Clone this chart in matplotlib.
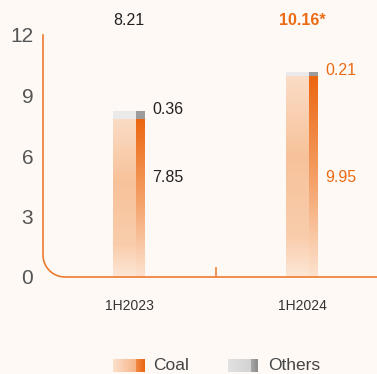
import numpy as np
import matplotlib
matplotlib.use("Agg")
from matplotlib import pyplot as plt
from matplotlib.colors import LinearSegmentedColormap
from matplotlib.lines import Line2D
from matplotlib import font_manager

# data
periods = ["1H2023", "1H2024"]
coal = [7.85, 9.95]
others = [0.36, 0.21]
totals = ["8.21", "10.16*"]
yticks = [0, 3, 6, 9, 12]

ORANGE = "#EC6A14"
DARK = "#222222"
BG = "#FEF9F5"

plt.rcParams["font.family"] = ["Liberation Sans", "DejaVu Sans"]
names = {f.name for f in font_manager.fontManager.ttflist}
narrow = "Liberation Sans Narrow" if "Liberation Sans Narrow" in names else "Liberation Sans"

W, H = 377, 374
fig = plt.figure(figsize=(W / 100, H / 100), dpi=100, facecolor=BG)

# axes box in pixels: left 43, right 377, top 35, bottom 277
ax = fig.add_axes([43 / W, (H - 277) / H, (W - 43) / W, (277 - 35) / H])
ax.set_facecolor("none")
for s in ax.spines.values():
    s.set_visible(False)

px = 1 / 173.0  # one pixel in x data units
x = np.arange(len(periods))
wl, wd = 23 * px, 9 * px
xl = x - 16 * px + wl / 2
xd = x + 7 * px + wd / 2

light_cm = LinearSegmentedColormap.from_list(
    "light", [(0, "#FDE7D6"), (0.2, "#F9CDAC"), (0.6, "#F7C29A"), (1, "#FBDCC6")])
dark_cm = LinearSegmentedColormap.from_list(
    "dark", [(0, "#FCE3D0"), (0.45, "#F5A56E"), (1, "#EC6610")])


def fill_gradient(bars, cmap):
    grad = np.linspace(0, 1, 256).reshape(-1, 1)
    for p in bars.patches:
        x0, y0 = p.get_x(), p.get_y()
        im = ax.imshow(grad, cmap=cmap, origin="lower", aspect="auto",
                       interpolation="bicubic",
                       extent=[x0, x0 + p.get_width(), y0, y0 + p.get_height()])
        im.set_clip_path(p)


b1 = ax.bar(xl, coal, width=wl, color="none", linewidth=0)
b2 = ax.bar(xd, coal, width=wd, color="none", linewidth=0)
fill_gradient(b1, light_cm)
fill_gradient(b2, dark_cm)
ax.bar(xl, others, width=wl, bottom=coal, color="#EAEAEA", linewidth=0)
ax.bar(xd, others, width=wd, bottom=coal, color="#9C9C9C", linewidth=0)

ax.set_xlim(-86 * px, 1 + 75 * px)
ax.set_ylim(0, 12)

# value labels
for i in range(len(periods)):
    c = DARK if i == 0 else ORANGE
    ax.text(x[i] + 23 * px, coal[i] + others[i] + 0.1, f"{others[i]:.2f}",
            ha="left", va="center", fontsize=11.5, color=c)
    ax.text(x[i] + 23 * px, 0.41, f"{coal[i]:.2f}", transform=ax.get_xaxis_transform(),
            ha="left", va="center", fontsize=11.5, color=c)
    ax.text(x[i], 1.06, totals[i], transform=ax.get_xaxis_transform(),
            ha="center", va="center", fontsize=11.5, color=c,
            fontweight="normal" if i == 0 else "bold")

ax.set_yticks(yticks)
ax.set_yticklabels([str(v) for v in yticks], fontsize=15, color="#555555", family=narrow)
ax.set_xticks(x)
ax.set_xticklabels(periods, fontsize=10, color="#333333")
ax.tick_params(axis="y", length=0, pad=7)
ax.tick_params(axis="x", which="major", length=0, pad=16)
ax.set_xticks([0.5], minor=True)
ax.tick_params(axis="x", which="minor", direction="in", length=7, width=1.1, color="#EE7A30")

# axis line with rounded corner (figure pixels)
r = 22
t = np.linspace(np.pi, 1.5 * np.pi, 30)
arc_x = 43 + r + r * np.cos(t)
arc_y = (H - 277) + r + r * np.sin(t)
lx = np.concatenate([[43], arc_x, [W]]) / W
ly = np.concatenate([[H - 35], arc_y, [H - 277]]) / H
fig.add_artist(Line2D(lx, ly, transform=fig.transFigure, color="#EE7A30", lw=1.2))


# legend
def swatch(x0, x1, xs, c_light, c_dark):
    sa = fig.add_axes([x0 / W, (H - 372) / H, (x1 - x0) / W, 13 / H])
    sa.axis("off")
    g = np.linspace(0, 1, 64).reshape(1, -1)
    sa.imshow(g, cmap=LinearSegmentedColormap.from_list("a", c_light), aspect="auto",
              extent=[x0, xs, 0, 1])
    sa.imshow(g, cmap=LinearSegmentedColormap.from_list("b", c_dark), aspect="auto",
              extent=[xs, x1, 0, 1])
    sa.set_xlim(x0, x1)
    sa.set_ylim(0, 1)


swatch(113, 145, 136, ["#FCE1CC", "#F6B587"], ["#F08A45", "#EC6610"])
swatch(228, 258, 251, ["#E2E2E2", "#D2D2D2"], ["#A8A8A8", "#8A8A8A"])
fig.text(153 / W, (H - 365) / H, "Coal", fontsize=12.5, color="#444444", va="center")
fig.text(268 / W, (H - 365) / H, "Others", fontsize=12.5, color="#444444", va="center")

fig.savefig("out.png", dpi=100, facecolor=BG)
